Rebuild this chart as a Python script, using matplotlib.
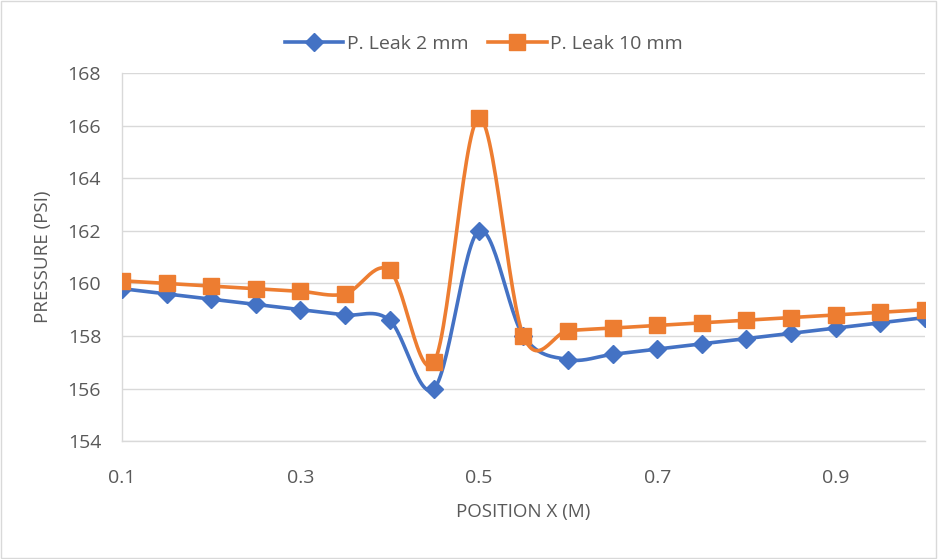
import numpy as np
import matplotlib
matplotlib.use("Agg")
import matplotlib.pyplot as plt

positions = [0.10, 0.15, 0.20, 0.25, 0.30, 0.35, 0.40, 0.45, 0.50, 0.55,
             0.60, 0.65, 0.70, 0.75, 0.80, 0.85, 0.90, 0.95, 1.00]
leak_2mm = [159.8, 159.6, 159.4, 159.2, 159.0, 158.8, 158.6, 156.0, 162.0, 158.0,
            157.1, 157.3, 157.5, 157.7, 157.9, 158.1, 158.3, 158.5, 158.7]
leak_10mm = [160.1, 160.0, 159.9, 159.8, 159.7, 159.6, 160.5, 157.0, 166.3, 158.0,
             158.2, 158.3, 158.4, 158.5, 158.6, 158.7, 158.8, 158.9, 159.0]
x_ticks = [0.1, 0.3, 0.5, 0.7, 0.9]
y_ticks = [154, 156, 158, 160, 162, 164, 166, 168]

BLUE = "#4472C4"
ORANGE = "#ED7D31"
GREY = "#595959"


def smooth_curve(x, y, steps=30):
    # bezier segments through every point, spreadsheet-style smoothing
    x = np.asarray(x, float)
    y = np.asarray(y, float)
    px = np.concatenate([[x[0]], x, [x[-1]]])
    py = np.concatenate([[y[0]], y, [y[-1]]])
    t = np.linspace(0, 1, steps)[:, None]
    out_x, out_y = [], []
    for i in range(len(x) - 1):
        p0 = np.array([px[i + 1], py[i + 1]])
        p3 = np.array([px[i + 2], py[i + 2]])
        c1 = p0 + (p3 - np.array([px[i], py[i]])) / 6
        c2 = p3 - (np.array([px[i + 3], py[i + 3]]) - p0) / 6
        pts = ((1 - t) ** 3) * p0 + 3 * ((1 - t) ** 2) * t * c1 \
            + 3 * (1 - t) * t ** 2 * c2 + t ** 3 * p3
        out_x.extend(pts[:, 0])
        out_y.extend(pts[:, 1])
    return out_x, out_y


plt.rcParams["font.family"] = ["Open Sans", "DejaVu Sans"]

fig = plt.figure(figsize=(9.38, 5.59), dpi=100)
ax = fig.add_axes([0.130, 0.211, 0.856, 0.658])

for y, color, marker, msize, label in [
    (leak_2mm, BLUE, "D", 9.5, "P. Leak 2 mm"),
    (leak_10mm, ORANGE, "s", 12, "P. Leak 10 mm"),
]:
    sx, sy = smooth_curve(positions, y)
    ax.plot(sx, sy, color=color, lw=2.6, solid_capstyle="round", zorder=3)
    ax.plot(positions, y, ls="none", marker=marker, ms=msize, color=color, zorder=4)
    ax.plot([], [], color=color, lw=2.6, marker=marker, ms=msize, label=label)

ax.set_xlim(0.1, 1.0)
ax.set_ylim(154, 168)
ax.set_xticks(x_ticks)
ax.set_xticklabels([f"{v:.1f}" for v in x_ticks])
ax.set_yticks(y_ticks)
ax.grid(axis="y", color="#D9D9D9", lw=1)
ax.set_axisbelow(True)
for side in ["top", "right"]:
    ax.spines[side].set_visible(False)
for side in ["left", "bottom"]:
    ax.spines[side].set_color("#D9D9D9")
    ax.spines[side].set_linewidth(1)
ax.tick_params(length=0, labelsize=14, colors=GREY)
ax.tick_params(axis="y", pad=15)
ax.tick_params(axis="x", pad=20)

ax.set_xlabel("POSITION X (M)", fontsize=13.5, color=GREY, labelpad=12)
ax.set_ylabel("PRESSURE (PSI)", fontsize=13.5, color=GREY, labelpad=11)

fig.legend(loc="center", bbox_to_anchor=(0.516, 0.921), ncol=2, frameon=False,
           fontsize=14, labelcolor=GREY, handlelength=3.0, columnspacing=1.0,
           handletextpad=0.2)

fig.patches.append(plt.Rectangle((0.001, 0.001), 0.997, 0.997, transform=fig.transFigure,
                                 fill=False, edgecolor="#D9D9D9", lw=1))

fig.savefig("out.png", dpi=100, facecolor="white")
